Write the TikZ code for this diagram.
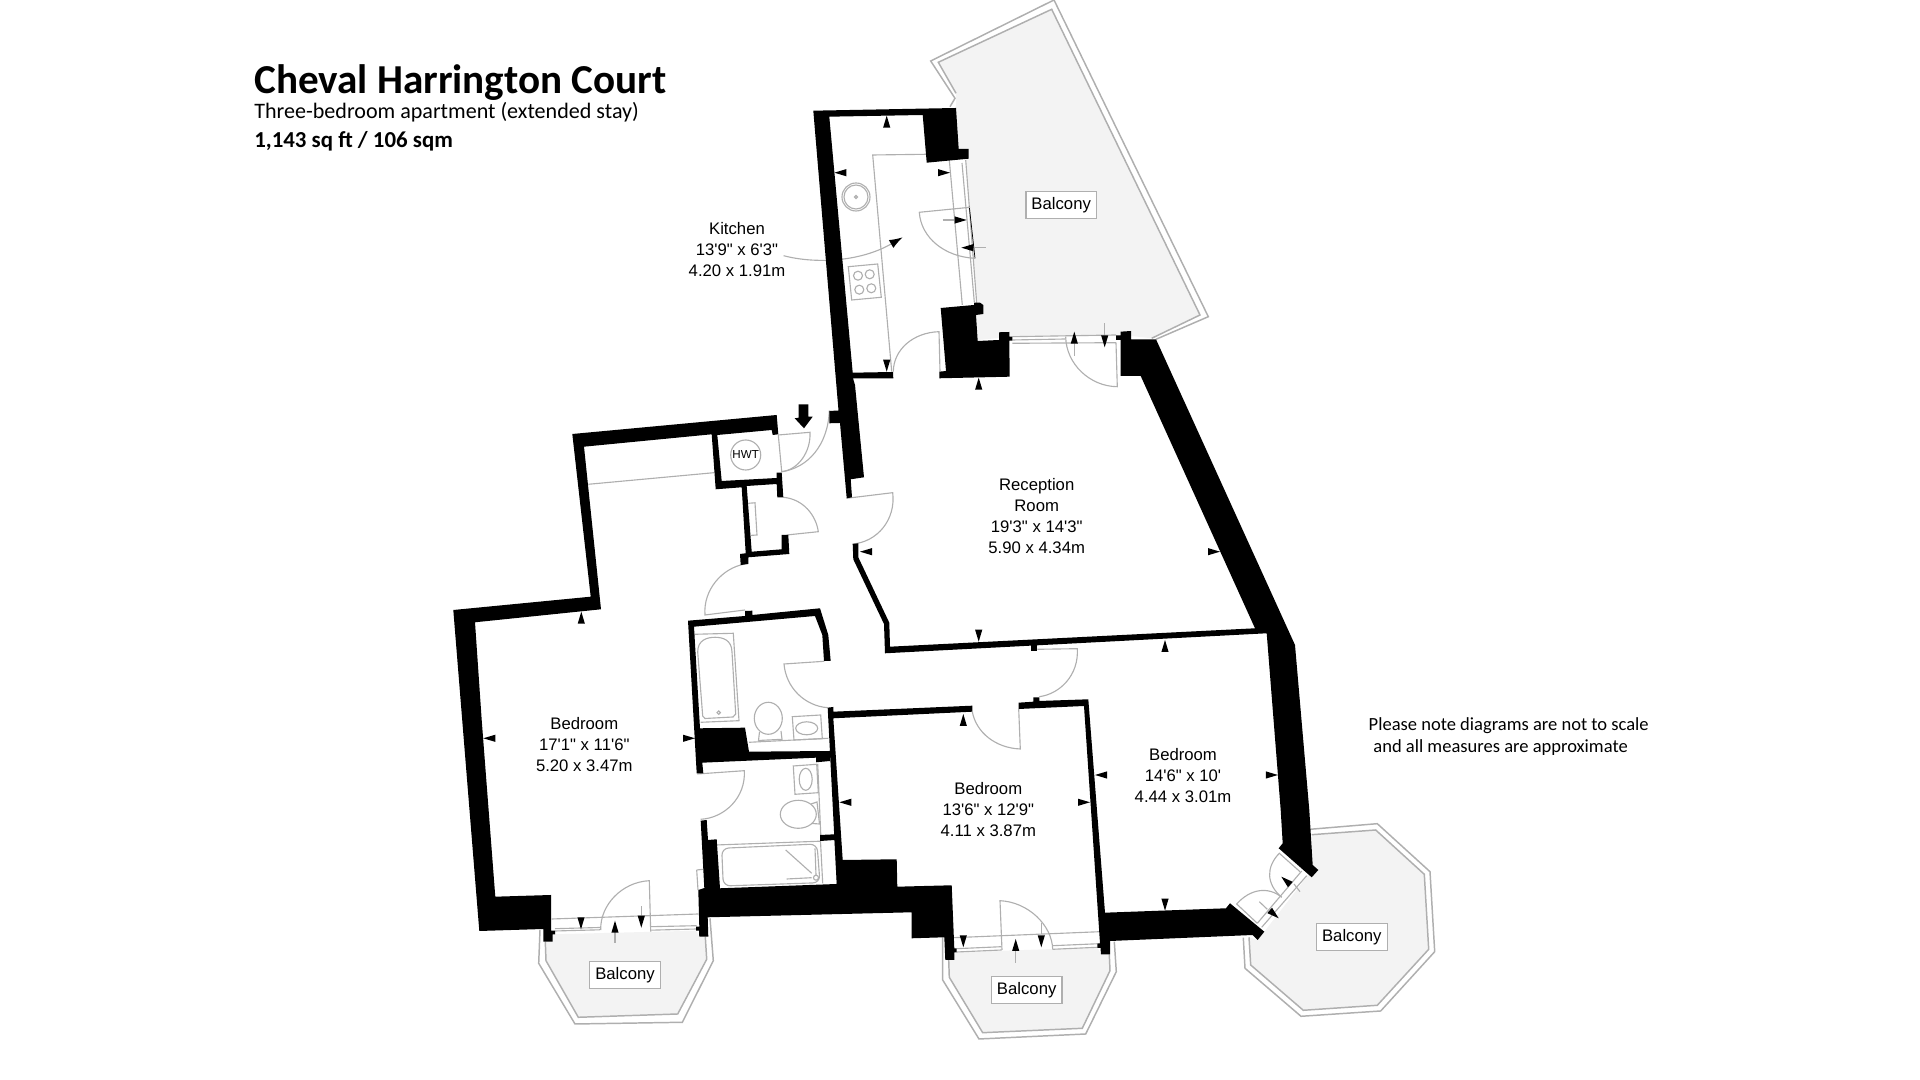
\documentclass[tikz,border=0pt]{standalone}
\usepackage{fontspec}
\usetikzlibrary{arrows.meta}
\setmainfont[Ligatures=TeXOff]{Liberation Sans}
\newfontfamily\titlefont{Carlito}
\definecolor{linegray}{RGB}{175,175,175}
\definecolor{balconyfill}{RGB}{243,243,243}
\tikzset{
  wall/.style={fill=black, draw=none},
  thinline/.style={draw=linegray, line width=0.32pt},
  railline/.style={draw=linegray, line width=0.42pt},
  balconyarea/.style={fill=balconyfill, draw=none},
  roomlabel/.style={align=center, inner sep=0pt, font=\fontsize{4.75}{5.97}\selectfont},
  balconylabel/.style={draw=linegray, line width=0.32pt, fill=white, minimum width=70.5*0.2845pt, minimum height=27*0.2845pt, inner sep=0pt, font=\fontsize{4.75}{5.97}\selectfont},
  headtext/.style={anchor=base west, inner sep=0pt}
}
\begin{document}
\begin{tikzpicture}[x=0.01cm, y=-0.01cm]
  \useasboundingbox (0,0) rectangle (1920,1080);

  % Balcony floors
  \fill[balconyarea] (956,108) -- (956,93.3) -- (938.3,62.3) -- (1051.7,9.3) -- (1200,315) -- (1151.7,338.3) -- (1131,336) -- (1012,336.7) -- (978,340) -- (976,315) -- (980,303) -- (976.7,303) -- (965.7,160) -- (968,158) -- (958.7,149) -- cycle;
  \fill[balconyarea] (552.7,934.3) -- (696,930.7) -- (699,936.7) -- (705.3,936.7) -- (706.7,959.3) -- (677.7,1014) -- (578.3,1017.3) -- (546,960.7) -- (545.3,941.7) -- cycle;
  \fill[balconyarea] (956.7,952.3) -- (1097.3,947.5) -- (1101,954.3) -- (1109.3,954.3) -- (1110,970.7) -- (1082.3,1028.3) -- (982.7,1032.7) -- (949.3,977.3) -- (948.7,960) -- cycle;
  \fill[balconyarea] (1311.7,834.7) -- (1375.7,830) -- (1424.3,874.3) -- (1428.7,949.3) -- (1377.3,1005.3) -- (1303.3,1010.3) -- (1250.7,965) -- (1249,937.3) -- (1257.7,940) -- (1264.3,931.7) -- (1306.7,877) -- (1312.7,865) -- cycle;

  % Balcony railings
  \draw[railline] (950,106.7) -- (955,98.3) -- (930.7,61) -- (1054,0) -- (1208.3,316.7) -- (1156,339.3);
  \draw[railline] (956,93.3) -- (938.3,62.3) -- (1051.7,9.3) -- (1200,315) -- (1151.7,338.3);
  \draw[railline] (540,930) -- (538.7,963.3) -- (575,1024) -- (682.3,1022.3) -- (713.3,960.7) -- (710,918.3);
  \draw[railline] (545.3,941.7) -- (546,960.7) -- (578.3,1017.3) -- (677.7,1014) -- (706.7,959.3) -- (705.3,936.7);
  \draw[railline] (942.7,937.3) -- (942.7,980) -- (979,1039) -- (1085.7,1034) -- (1116.3,971.7) -- (1114.3,941.7);
  \draw[railline] (948.7,960) -- (949.3,977.3) -- (982.7,1032.7) -- (1082.3,1028.3) -- (1110,970.7) -- (1109.3,954.3);
  \draw[railline] (1310,829.3) -- (1377.3,823.7) -- (1430,871.7) -- (1434.7,951.7) -- (1380.7,1011) -- (1301,1016.3) -- (1245,968.3) -- (1243.3,937.7);
  \draw[railline] (1311.7,834.7) -- (1375.7,830) -- (1424.3,874.3) -- (1428.7,949.3) -- (1377.3,1005.3) -- (1303.3,1010.3) -- (1250.7,965) -- (1249,937.3);

  % Kitchen pointer
  \coordinate (kitchenstart) at (783.6,255.7);
  \coordinate (kitchenend) at (902.7,237.3);
  \draw[thinline, -{Latex[black, length=3.8pt, width=2.6pt]}] (kitchenstart) .. controls (815,264) and (860,262) .. (kitchenend);

  % Kitchen units and windows
  \draw[thinline] (926,154.3) -- (872.7,155) -- (891.7,371.7);
  \draw[thinline] (856,197) circle (14);
  \draw[thinline] (856,197) circle (12);
  \draw[thinline] (856,197) circle (1.5);
  \draw[thinline] (848.3,266.7) -- (877.7,264) -- (881.3,297.3) -- (851.7,300) -- cycle;
  \foreach \x/\y in {858/275.7, 869.7/274.3, 859.3/289.7, 871.3/288.3} {
    \draw[thinline] (\x,\y) circle (4.5);
  }
  \draw[thinline] (949.3,160) -- (962.3,305);
  \draw[thinline] (962,163) -- (974.3,302);
  \draw[thinline] (965.7,160) -- (976.7,303.3);
  \draw[black, line width=0.2pt] (969.3,206.7) -- (975,258.3);
  \draw[thinline] (1012.3,336.7) -- (1116,335);
  \draw[thinline] (1012.3,340) -- (1065.7,339);
  \draw[thinline] (1012.3,343.3) -- (1116,342.7);

  % Bedroom bay windows
  \draw[thinline] (551.7,919) -- (698.3,914);
  \draw[thinline] (555,928.7) -- (600,927.5);
  \draw[thinline] (555,931) -- (600,929.8);
  \draw[thinline] (650.7,926.7) -- (696.7,925.7);
  \draw[thinline] (650.7,930.2) -- (696.7,929);
  \draw[thinline] (953.3,937.7) -- (1100,931.7);
  \draw[thinline] (956.7,948.7) -- (1001.7,946.7);
  \draw[thinline] (956.7,952) -- (1001.7,950);
  \draw[thinline] (1052.7,945.7) -- (1097,943.8);
  \draw[thinline] (1052.7,949.3) -- (1097,947.3);
  \draw[thinline] (1261.7,927.3) -- (1306.7,875.7);
  \draw[thinline] (1257.3,923.3) -- (1301.7,871);
  \draw[thinline] (696.7,870) -- (703.3,869.3);
  \draw[thinline] (696.7,870) -- (698,890);
  \draw[thinline] (588.3,484.3) -- (714,472.7);

  % Doors
  \draw[thinline] (940,371.7) -- (939,331.7) .. controls (913,332.5) and (893.5,349.7) .. (893.3,371.7);
  \draw[thinline] (970,207.3) -- (919.3,212.3) .. controls (921,238) and (945,257) .. (975,258.3);
  \draw[thinline] (1116,342.7) -- (1117.3,386.7) .. controls (1090,386.5) and (1066,364) .. (1065.7,336.7);
  \draw[thinline] (778.3,435) -- (810,432.3) .. controls (811,452) and (798,470) .. (781.7,471.7);
  \draw[thinline] (829.3,410.7) .. controls (828,445) and (808,468) .. (781.7,471.7) -- (778.3,435);
  \draw[thinline] (783.3,497.3) .. controls (803,499) and (816,515) .. (818.3,531.7) -- (786.7,535);
  \draw[thinline] (846.7,498.3) -- (892.7,492.7) .. controls (896,520) and (877,542) .. (852.7,544);
  \draw[thinline] (745,610) -- (705,615) .. controls (703,590) and (722,568) .. (745,564);
  \draw[thinline] (824.3,661.3) -- (784,664) .. controls (786,688) and (805,706) .. (827.7,707.7);
  \draw[thinline] (1037.3,649.3) -- (1077.3,648.7) .. controls (1079,675) and (1060,694) .. (1039.3,696.7);
  \draw[thinline] (1018.7,709) -- (1020.3,749) .. controls (995,748) and (976,732) .. (972.3,711.7);
  \draw[thinline] (697.3,774) -- (744.3,770.7) .. controls (746,797) and (725,818) .. (700.7,819.3);
  \draw[thinline] (650.7,931.7) -- (649.3,880.7) .. controls (622,882) and (600,905) .. (600.7,930);
  \draw[thinline] (1002,950) -- (1000,900.7) .. controls (1028,902) and (1052,925) .. (1052.7,949.3);
  \draw[thinline] (1300,871.7) -- (1279.3,853.3) .. controls (1266,867) and (1266,884) .. (1281.7,897.3);
  \draw[thinline] (1257.3,923.3) -- (1236.7,904) .. controls (1250,889) and (1268,886) .. (1281.7,897.3);

  % Bathroom fittings
  \draw[thinline] (694,634.3) -- (733.3,633.3) -- (739,720.7) -- (700.7,722.3);
  \draw[thinline] (697.7,652) .. controls (697.7,640) and (707,637.3) .. (715,637.3) .. controls (723,637.3) and (731.7,640) .. (732,652) -- (735.7,714) -- (733,717) -- (705,718.5) -- (702.7,716) -- cycle;
  \draw[thinline] (718.7,712.7) circle (1.7);
  \draw[thinline] (768.3,718.3) ellipse (14 and 16);
  \draw[thinline] (759.5,732) -- (758.5,740.5) -- (782,739.3) -- (781,731);
  \draw[thinline] (792.3,716.7) -- (820.7,715) -- (822.3,738.7) -- (794,740) -- cycle;
  \draw[thinline] (806.7,728.3) ellipse (11 and 6.5);
  \draw[thinline] (749,742.3) -- (828.3,738.3);
  \draw[thinline] (793.3,766) -- (816.7,764.3) -- (818.3,792.7) -- (795,794.3) -- cycle;
  \draw[thinline] (805.7,779.3) ellipse (6.5 and 11);
  \draw[thinline] (798.3,814.3) ellipse (18 and 14);
  \draw[thinline] (811,804) -- (817,802) -- (819.5,824) -- (812,823.5);
  \draw[thinline] (817.7,764) -- (821,840);
  \draw[thinline] (716,845) -- (820.5,841.2) -- (822.7,883.3);
  \draw[thinline] (835,840.7) -- (837.3,884);
  \draw[thinline, rounded corners=2pt] (721.7,848.3) -- (817,844) -- (820,882.7) -- (723.3,886) -- cycle;
  \draw[thinline] (785.7,850) -- (811.7,873.3);
  \draw[thinline] (815,848.3) -- (816,875);
  \draw[thinline] (786.7,879) -- (811.7,877.7);
  \draw[thinline] (816,877.7) circle (2.5);
  \draw[thinline] (748.3,503.3) -- (755,502.8) -- (757,535) -- (751,535.4);

  % Walls
  \fill[wall] (813.3,110.7) -- (956,108) -- (958.7,149) -- (968.7,149) -- (968.7,158.7) -- (926.7,162.7) -- (922.7,115) -- (829.3,116.7) -- (852.7,372.7) -- (893,372) -- (893.3,378.3) -- (853,378.3) -- (855,385) -- (864,477.3) -- (850.7,479.3) -- (852,497.3) -- (846.7,498.3) -- (840,423) -- (829.3,423.3) -- (829.3,411) -- (838.5,410.5) -- cycle;
  \fill[wall] (940.7,308) -- (974,305) -- (974,302.7) -- (980,302.7) -- (983.3,305) -- (983.3,314) -- (976,315) -- (977.7,341) -- (999,340) -- (999,332.3) -- (1009.3,332) -- (1009.3,336.7) -- (1012.3,336.7) -- (1012.3,340.7) -- (1009.3,340.7) -- (1009.7,376.7) -- (939.3,378.3) -- (939.3,371.7) -- (946,371) -- cycle;
  \fill[wall] (1120.7,331.7) -- (1131,331) -- (1131,339.3) -- (1156,339.3) -- (1295,645) -- (1309.3,810) -- (1312.7,865) -- (1318.3,870) -- (1311.7,877.3) -- (1305.3,871.7) -- (1278.7,848.3) -- (1282.7,843.3) -- (1280.7,810) -- (1266.7,633.3) -- (885,653.3) -- (884,624) -- (853.3,559.3) -- (852.7,544) -- (858.3,543.3) -- (858.3,557.3) -- (889.3,622.7) -- (890,646.7) -- (1255,628.3) -- (1140.7,376) -- (1120.7,376) -- (1120.7,340) -- (1116,340) -- (1116,335.3) -- (1120.7,335.3) -- cycle;
  \fill[wall] (1030.7,645) rectangle (1037.3,651);
  \fill[wall] (1018.7,702.7) -- (1033.3,701.7) -- (1033.3,697.3) -- (1039.3,697.3) -- (1039.3,701) -- (1088.3,699.3) -- (1105,912.7) -- (1226,908.3) -- (1230,903.3) -- (1264.3,931.7) -- (1257.7,940) -- (1252.7,935) -- (1110,941) -- (1110,954.3) -- (1101,954.3) -- (1100.5,948) -- (1097.3,948) -- (1097.3,943.3) -- (1100,943.3) -- (1084,706) -- (1018.7,709) -- cycle;
  \fill[wall] (572.3,434) -- (776.7,415) -- (778.3,434.3) -- (772.7,435) -- (771.7,430) -- (717.3,435) -- (721.7,481) -- (776.7,478) -- (776.7,472.7) -- (781.7,472.7) -- (783.3,497.3) -- (777.3,497.3) -- (776.7,484) -- (746.7,486) -- (751.7,551.7) -- (781.7,549.3) -- (781.7,535) -- (788.3,535) -- (789.3,554) -- (748.3,557.3) -- (748.3,564) -- (740.7,565) -- (740,554) -- (745.7,553.3) -- (741.7,487.3) -- (715.7,489.3) -- (711.7,434.3) -- (584,446.7) -- (601,609.3) -- (475,622.3) -- (481.7,720) -- (495.3,896.7) -- (551,895) -- (551,930.7) -- (555,930.7) -- (555,934.3) -- (552.7,934.3) -- (552.7,941.7) -- (543.3,941.7) -- (543.3,929) -- (479.3,931) -- (453.3,610) -- (590.7,596.7) -- cycle;
  \fill[wall] (688,620.7) -- (745,616) -- (745,611) -- (752.3,610.7) -- (752.3,615) -- (820,608.3) -- (828.3,635) -- (830.7,661) -- (824,661) -- (822.3,635) -- (815,616) -- (694,626.7) -- (700,728.3) -- (745,727.7) -- (749,751.7) -- (830,751) -- (830,761) -- (816,762.3) -- (816,757.7) -- (702.3,762.7) -- (703.3,773.3) -- (696.7,773.3) -- cycle;
  \fill[wall] (827.7,707.7) -- (833.3,707) -- (833.3,711.7) -- (972.3,705.7) -- (972.3,711.7) -- (833.3,718.3) -- (842.7,860) -- (896.7,859.3) -- (897.3,886.7) -- (951.7,885.3) -- (954.3,948.3) -- (956.7,948.3) -- (956.7,952.3) -- (954.3,952.3) -- (954.3,960) -- (945.3,960) -- (944.3,937.3) -- (911.7,938.3) -- (911.7,912.3) -- (707.7,917.3) -- (708.3,936.7) -- (699.3,936.7) -- (699,930.7) -- (696,930.7) -- (696,926.7) -- (699.3,926.7) -- (698.3,890) -- (704.3,888) -- (700.7,820.7) -- (706.7,820) -- (708,840) -- (716.7,839.3) -- (720,888.3) -- (836.7,884) -- cycle;
  \fill[wall] (820,835) -- (835,834.3) -- (835,840) -- (820,841) -- cycle;

  % Entrance arrow
  \fill[wall] (798.7,404.3) -- (808.3,404.3) -- (808.3,416.7) -- (812.7,416.7) -- (804,428.3) -- (794.7,418.3) -- (798.7,417.7) -- cycle;

  % Arrow tails
  \foreach \ax/\ay/\bx/\by in {942.7/220/955/220, 974/247.7/985.7/247.7, 1074.3/343.3/1074.3/356, 1104.7/336/1104.7/323.3, 615/932.3/615/942.7, 641.3/916/641.3/906, 1015.7/950.7/1015.7/962.7, 1041.3/934/1041.3/923.3, 1294/884/1300/891.7, 1267.3/909.3/1259.3/901.7} {
    \draw[thinline] (\ax,\ay) -- (\bx,\by);
  }

  % Dimension arrows
  \foreach \x/\y/\rot in {886.7/115.7/90, 886.7/371.7/270, 834.3/172.7/180, 950/172.7/0, 966.7/220/0, 961.3/247.7/180, 1074.3/331.7/90, 1104.7/347.3/270, 978.7/377.7/90, 978.7/641.7/270, 860/551.7/180, 1220/551.7/0, 483.3/738.3/180, 695/738.3/0, 581.3/611.7/90, 581/929.3/270, 615/920.7/90, 641.3/927.7/270, 839.3/802.3/180, 1090/802.3/0, 963.3/714/90, 963.3/947.3/270, 1015.7/939/90, 1041.3/947.3/270, 1095/775/180, 1277.9/775/0, 1165/640/90, 1165/910.7/270, 1281.3/876.7/139, 1278.7/918.3/319} {
    \fill[black, shift={(\x,\y)}, rotate=\rot] (0,0) -- (-12,3.6) -- (-12,-3.6) -- cycle;
  }

  % Hot water tank
  \node[circle, draw=linegray, line width=0.32pt, minimum size=30*0.2845pt, inner sep=0pt, font=\fontsize{3.3}{4}\selectfont] (hwt) at (745.7,455) {HWT};

  % Room labels
  \node[roomlabel] (kitchen) at (737,249.3) {Kitchen\\13'9" x 6'3"\\4.20 x 1.91m};
  \node[roomlabel] (reception) at (1036.7,516) {Reception\\Room\\19'3" x 14'3"\\5.90 x 4.34m};
  \node[roomlabel] (bedroomone) at (584.3,745) {Bedroom\\17'1" x 11'6"\\5.20 x 3.47m};
  \node[roomlabel] (bedroomtwo) at (988.3,810) {Bedroom\\13'6" x 12'9"\\4.11 x 3.87m};
  \node[roomlabel] (bedroomthree) at (1183,776) {Bedroom\\14'6" x 10'\\4.44 x 3.01m};

  % Balcony labels
  \node[balconylabel] (balconytop) at (1061.2,204.8) {Balcony};
  \node[balconylabel] (balconyleft) at (625,974.8) {Balcony};
  \node[balconylabel] (balconymid) at (1026.7,990) {Balcony};
  \node[balconylabel] (balconyright) at (1351.8,936.8) {Balcony};

  % Heading
  \node[headtext, font=\titlefont\bfseries\fontsize{11.7}{14}\selectfont] (title) at (253.6,93.5) {Cheval Harrington Court};
  \node[headtext, font=\titlefont\fontsize{6.28}{8}\selectfont] (subtitle) at (253.6,118.3) {Three-bedroom apartment (extended stay)};
  \node[headtext, font=\titlefont\bfseries\fontsize{6.5}{8}\selectfont] (area) at (253.6,147.4) {1,143 sq ft / 106 sqm};
  \node[headtext, font=\titlefont\fontsize{5.27}{6}\selectfont] (noteone) at (1368,731) {Please note diagrams are not to scale};
  \node[headtext, font=\titlefont\fontsize{5.27}{6}\selectfont] (notetwo) at (1372.7,752.7) {and all measures are approximate};
\end{tikzpicture}
\end{document}
